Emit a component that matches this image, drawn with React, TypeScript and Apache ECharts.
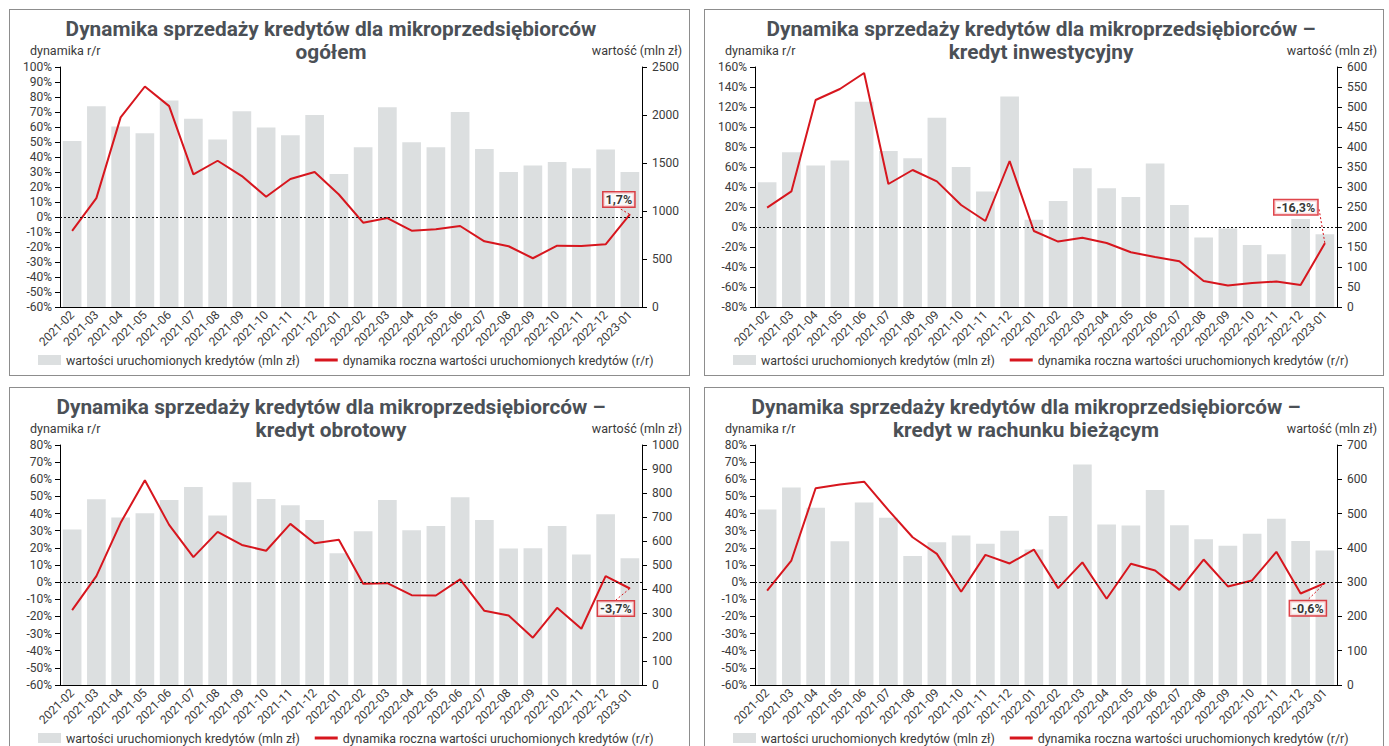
import React, { useEffect, useRef } from 'react';
import * as echarts from 'echarts';

const FONT = 'Roboto, "DejaVu Sans", sans-serif';
const RED = '#d7161e';
const BAR = '#dcdfe0';
const TXT = '#3a3a3a';
const TITLE = '#4b5056';

const categories = [
  '2021-02', '2021-03', '2021-04', '2021-05', '2021-06', '2021-07', '2021-08', '2021-09',
  '2021-10', '2021-11', '2021-12', '2022-01', '2022-02', '2022-03', '2022-04', '2022-05',
  '2022-06', '2022-07', '2022-08', '2022-09', '2022-10', '2022-11', '2022-12', '2023-01',
];

const ogolemValues = [1730, 2090, 1880, 1810, 2150, 1960, 1745, 2040, 1870, 1790, 2000, 1385, 1665, 2080, 1715, 1665, 2030, 1645, 1405, 1475, 1510, 1445, 1640, 1405];
const ogolemDyn = [-9.3, 12.6, 66.4, 87.0, 73.9, 28.4, 37.5, 27.3, 13.5, 25.3, 30.0, 15.0, -3.8, -0.7, -9.1, -8.2, -6.0, -16.2, -19.5, -27.5, -19.1, -19.3, -18.2, 1.7];

const inwestValues = [312, 387, 354, 366, 513, 390, 372, 473, 350, 289, 526, 218, 265, 347, 297, 275, 359, 255, 174, 196, 155, 132, 220, 182];
const inwestDyn = [19.3, 35.6, 127, 138, 154, 43, 57, 45.6, 22, 6, 66, -4, -14.6, -10.7, -16, -25.3, -30, -34.3, -54, -58.6, -56, -54.6, -58, -16.3];

const obrotValues = [648, 774, 698, 716, 771, 825, 706, 845, 775, 749, 687, 549, 641, 771, 645, 662, 782, 688, 569, 570, 663, 544, 711, 528];
const obrotDyn = [-16.3, 3.5, 34.6, 59.4, 33.4, 14.6, 29.3, 21.7, 18.3, 34, 22.7, 24.7, -1.0, -0.6, -7.6, -7.8, 1.6, -16.7, -19.4, -32.4, -15, -27.2, 3.5, -3.7];

const rachValues = [512, 576, 517, 419, 532, 488, 376, 416, 436, 412, 450, 395, 493, 643, 468, 465, 569, 466, 425, 406, 441, 485, 420, 392];
const rachDyn = [-4.9, 12.6, 54.8, 56.9, 58.6, 42, 26.2, 16.5, -5.6, 15.9, 10.9, 19.0, -3.5, 11.5, -9.7, 10.7, 6.8, -4.5, 13.2, -2.5, 1.0, 17.7, -6.6, -0.6];

const BAR_NAME = 'wartości uruchomionych kredytów (mln zł)';
const LINE_NAME = 'dynamika roczna wartości uruchomionych kredytów (r/r)';
const LEFT_NAME = 'dynamika r/r';
const RIGHT_NAME = 'wartość (mln zł)';

type Cfg = {
  title1: string;
  title2: string;
  titleX: number;
  values: number[];
  dyn: number[];
  leftMin: number;
  leftMax: number;
  leftInterval: number;
  rightMax: number;
  rightInterval: number;
  dx: number;
  dy: number;
};

type PanelDef = { cfg: Cfg; left: number; top: number; width: number; height: number; open?: boolean };

const panels: PanelDef[] = [
  {
    left: 9, top: 9, width: 681, height: 367,
    cfg: {
      title1: 'Dynamika sprzedaży kredytów dla mikroprzedsiębiorców', title2: 'ogółem', titleX: 321,
      values: ogolemValues, dyn: ogolemDyn, leftMin: -60, leftMax: 100, leftInterval: 10,
      rightMax: 2500, rightInterval: 500, dx: -11, dy: -15,
    },
  },
  {
    left: 704, top: 9, width: 680, height: 367,
    cfg: {
      title1: 'Dynamika sprzedaży kredytów dla mikroprzedsiębiorców –', title2: 'kredyt inwestycyjny', titleX: 336,
      values: inwestValues, dyn: inwestDyn, leftMin: -80, leftMax: 160, leftInterval: 20,
      rightMax: 600, rightInterval: 50, dx: -29, dy: -36,
    },
  },
  {
    left: 9, top: 387, width: 681, height: 359, open: true,
    cfg: {
      title1: 'Dynamika sprzedaży kredytów dla mikroprzedsiębiorców –', title2: 'kredyt obrotowy', titleX: 321,
      values: obrotValues, dyn: obrotDyn, leftMin: -60, leftMax: 80, leftInterval: 10,
      rightMax: 1000, rightInterval: 100, dx: -14, dy: 20,
    },
  },
  {
    left: 704, top: 387, width: 680, height: 359, open: true,
    cfg: {
      title1: 'Dynamika sprzedaży kredytów dla mikroprzedsiębiorców –', title2: 'kredyt w rachunku bieżącym', titleX: 321,
      values: rachValues, dyn: rachDyn, leftMin: -60, leftMax: 80, leftInterval: 10,
      rightMax: 700, rightInterval: 100, dx: -17, dy: 25,
    },
  },
];

function buildOption(c: Cfg): any {
  const last = c.dyn.length - 1;
  const labelText = c.dyn[last].toFixed(1).replace('.', ',') + '%';
  const axisLabelBase = { fontSize: 12, color: TXT, fontFamily: FONT };
  const titleFont = `bold 20.8px ${FONT}`;
  return {
    animation: false,
    textStyle: { fontFamily: FONT },
    grid: { left: 50, top: 57, width: 582, height: 240, containLabel: false },
    graphic: [
      {
        type: 'text', x: c.titleX, y: 19,
        style: { text: c.title1, textAlign: 'center', textVerticalAlign: 'middle', font: titleFont, fill: TITLE },
      },
      {
        type: 'text', x: c.titleX, y: 42,
        style: { text: c.title2, textAlign: 'center', textVerticalAlign: 'middle', font: titleFont, fill: TITLE },
      },
      {
        type: 'text', x: 20, y: 40,
        style: { text: LEFT_NAME, textVerticalAlign: 'middle', font: `12.5px ${FONT}`, fill: TXT },
      },
      {
        type: 'text', x: 672, y: 40,
        style: { text: RIGHT_NAME, textAlign: 'right', textVerticalAlign: 'middle', font: `12.5px ${FONT}`, fill: TXT },
      },
    ],
    legend: {
      left: 23, top: 339, itemWidth: 23, itemHeight: 10, itemGap: 15,
      textStyle: { fontSize: 12.4, color: TXT, fontFamily: FONT },
      data: [
        { name: BAR_NAME, icon: 'rect' },
        { name: LINE_NAME, icon: 'path://M0,0L23,0L23,3L0,3Z' },
      ],
    },
    xAxis: {
      type: 'category', data: categories,
      axisLine: { onZero: false, lineStyle: { color: '#000', width: 1 } },
      axisTick: { show: false },
      axisLabel: { rotate: 45, interval: 0, fontSize: 12, color: TXT, margin: 6, fontFamily: FONT },
    },
    yAxis: [
      {
        type: 'value', position: 'left', min: c.leftMin, max: c.leftMax, interval: c.leftInterval,
        axisLine: { show: true, lineStyle: { color: '#000', width: 1 } },
        axisTick: { show: true, length: 5, lineStyle: { color: '#000' } },
        splitLine: { show: false },
        axisLabel: { ...axisLabelBase, formatter: (v: number) => `${v}%`, margin: 8 },
      },
      {
        type: 'value', position: 'right', min: 0, max: c.rightMax, interval: c.rightInterval,
        axisLine: { show: true, lineStyle: { color: '#000', width: 1 } },
        axisTick: { show: true, length: 5, lineStyle: { color: '#000' } },
        splitLine: { show: false },
        axisLabel: { ...axisLabelBase, formatter: (v: number) => `${v}`, margin: 10 },
      },
    ],
    series: [
      {
        name: BAR_NAME, type: 'bar', yAxisIndex: 1, data: c.values,
        barCategoryGap: '23%', itemStyle: { color: BAR },
      },
      {
        name: LINE_NAME, type: 'line', yAxisIndex: 0, data: c.dyn,
        symbol: 'none', lineStyle: { color: RED, width: 2 }, itemStyle: { color: RED },
        markLine: {
          silent: true, symbol: 'none', label: { show: false },
          lineStyle: { color: '#111', type: [2, 2], width: 1 },
          data: [{ yAxis: 0 }],
        },
      },
      {
        name: 'etykieta', type: 'scatter', yAxisIndex: 0,
        data: [[categories[last], c.dyn[last]]],
        symbolSize: 1, itemStyle: { color: RED },
        label: {
          show: true, position: 'inside', formatter: labelText,
          backgroundColor: '#fff', borderColor: RED, borderWidth: 1.5,
          padding: [1, 2, 0, 2], color: '#000', fontWeight: 'bold', fontSize: 12.5, fontFamily: FONT,
        },
        labelLayout: { dx: c.dx, dy: c.dy },
        labelLine: { show: true, lineStyle: { color: RED, width: 1, type: [2, 2] } },
      },
    ],
  };
}

function Panel(props: PanelDef) {
  const ref = useRef<HTMLDivElement>(null);
  useEffect(() => {
    if (!ref.current) return;
    const chart = echarts.init(ref.current, null, { renderer: 'svg' });
    chart.setOption(buildOption(props.cfg));
    return () => chart.dispose();
  }, []);
  const bw = props.open ? 1 : 2;
  return (
    <div
      style={{
        position: 'absolute', left: props.left, top: props.top, width: props.width, height: props.height,
        border: '1px solid #8d8d8d', borderBottom: props.open ? 'none' : '1px solid #8d8d8d',
        boxSizing: 'border-box', background: '#fff', overflow: 'hidden',
      }}
    >
      <div ref={ref} style={{ width: props.width - 2, height: props.height - bw }} />
    </div>
  );
}

export default function App() {
  return (
    <div style={{ position: 'fixed', left: 0, top: 0, width: 1389, height: 746, overflow: 'hidden', background: '#fff' }}>
      {panels.map((p, i) => (
        <Panel key={i} {...p} />
      ))}
    </div>
  );
}
